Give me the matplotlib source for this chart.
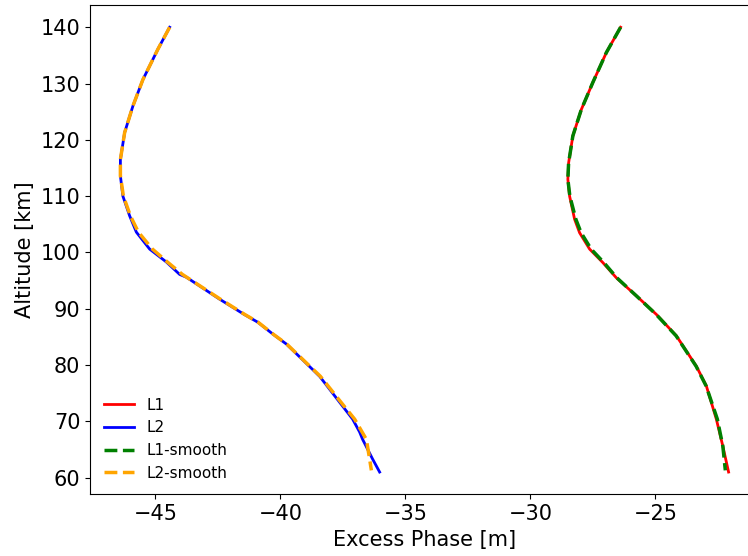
import matplotlib
matplotlib.use("Agg")
import matplotlib.pyplot as plt
import numpy as np

# altitude profile [km] and excess phase [m] for both frequencies
alt_l2 = [140.0, 136.1, 130.7, 126.0, 121.3, 116.5, 113.6, 110.0, 106.5, 103.6,
          100.6, 98.3, 96.1, 95.6, 91.7, 89.0, 87.6, 85.5, 83.7, 78.0, 72.7,
          70.4, 68.1, 66.8, 63.3, 61.0]
phase_l2 = [-44.43, -44.90, -45.50, -45.90, -46.23, -46.40, -46.40, -46.30,
            -46.03, -45.76, -45.23, -44.56, -44.03, -43.76, -42.43, -41.45,
            -40.90, -40.30, -39.75, -38.43, -37.51, -37.11, -36.83, -36.71,
            -36.31, -36.03]

alt_l2s = [140.0, 136.1, 130.7, 126.0, 121.3, 116.5, 113.6, 110.0, 106.5, 103.6,
           100.6, 98.3, 96.1, 91.7, 89.0, 87.6, 85.5, 83.7, 78.0, 72.7, 70.4,
           66.8, 63.3, 61.3]
phase_l2s = [-44.43, -44.90, -45.50, -45.90, -46.23, -46.40, -46.40, -46.28,
             -46.00, -45.68, -45.12, -44.52, -43.92, -42.40, -41.43, -40.89,
             -40.29, -39.74, -38.40, -37.45, -37.03, -36.56, -36.43, -36.36]

alt_l1 = [140.0, 135.5, 130.2, 125.4, 120.7, 115.9, 113.0, 110.0, 105.9, 103.5,
          100.6, 98.2, 95.5, 92.3, 89.0, 85.2, 79.8, 76.3, 70.4, 65.6, 61.0]
phase_l1 = [-26.39, -26.96, -27.50, -27.96, -28.30, -28.47, -28.50, -28.43,
            -28.23, -28.03, -27.63, -27.10, -26.56, -25.76, -24.96, -24.16,
            -23.36, -22.96, -22.56, -22.30, -22.07]

alt_l1s = [140.0, 135.5, 130.2, 125.4, 120.7, 115.9, 113.0, 110.0, 105.9, 103.5,
           100.6, 98.2, 95.5, 92.3, 89.0, 85.2, 79.8, 76.3, 70.4, 65.6, 61.3]
phase_l1s = [-26.39, -26.96, -27.50, -27.96, -28.30, -28.47, -28.50, -28.42,
             -28.18, -27.97, -27.57, -27.06, -26.54, -25.76, -24.97, -24.17,
             -23.37, -22.97, -22.52, -22.30, -22.20]

fig = plt.figure(figsize=(7.48, 5.56), dpi=100)
ax = fig.add_axes([0.1203, 0.111, 0.8944, 0.880])

ax.plot(phase_l1, alt_l1, '-', color='red', linewidth=2, label='L1')
ax.plot(phase_l2, alt_l2, '-', color='blue', linewidth=2, label='L2')
ax.plot(phase_l1s, alt_l1s, '--', color='green', linewidth=2.5, label='L1-smooth')
ax.plot(phase_l2s, alt_l2s, '--', color='orange', linewidth=2.5, label='L2-smooth')

ax.set_xlabel("Excess Phase [m]", fontsize=15)
ax.set_ylabel("Altitude [km]", fontsize=15)
ax.tick_params(labelsize=15)
ax.legend(loc='lower left', frameon=False, fontsize=11)

plt.savefig("out.png", dpi=100)
plt.close()
